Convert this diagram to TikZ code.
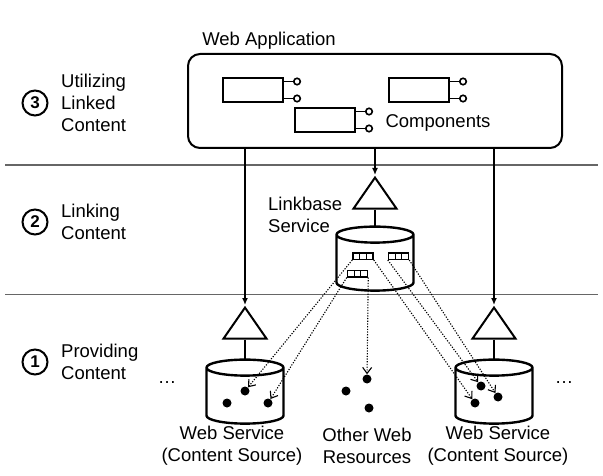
\documentclass[tikz,border=0pt]{standalone}
\usepackage{fontspec}
\setmainfont{Liberation Sans}
\usetikzlibrary{arrows,arrows.meta,positioning,shapes.geometric}

\begin{document}
\begin{tikzpicture}[x=1pt, y=-1pt, font=\fontsize{18.5}{22}\selectfont]
\tikzset{layer line/.style={draw=black!60, line width=1.4pt}}
\tikzset{appbox/.style={draw, line width=2pt, rounded corners=12pt, minimum width=374pt, minimum height=94pt, inner sep=0pt}}
\tikzset{comp/.style={draw, line width=2pt, minimum width=60pt, minimum height=24pt, inner sep=0pt}}
\tikzset{portdot/.style={circle, draw, line width=1.6pt, fill=white, minimum size=6.5pt, inner sep=0pt, anchor=west}}
\tikzset{iface/.style={isosceles triangle, isosceles triangle stretches, shape border rotate=90, draw, line width=2pt, minimum width=43pt, minimum height=31pt, inner sep=0pt}}
\tikzset{store/.style={minimum width=77pt, minimum height=64pt, inner sep=0pt, outer sep=0pt}}
\tikzset{store line/.style={line width=2.4pt, line join=round}}
\tikzset{linkbox/.style={draw, line width=1.5pt, minimum width=20pt, minimum height=6.5pt, inner sep=0pt,
  path picture={\foreach \f in {6.67,13.33} \draw[line width=1.3pt] ([xshift=\f pt]path picture bounding box.south west) -- ([xshift=\f pt]path picture bounding box.north west);}}}
\tikzset{res/.style={circle, fill, minimum size=9pt, inner sep=0pt}}
\tikzset{conn/.style={line width=1.3pt, -{Latex[length=7pt,width=6pt]}}}
\tikzset{plain/.style={line width=1.3pt}}
\tikzset{link/.style={dash pattern=on 1.2pt off 1.5pt, line width=1.1pt, -{Straight Barb[length=6pt,width=9pt]}}}
\tikzset{phase/.style={circle, draw, line width=2pt, minimum size=25pt, inner sep=0pt, font=\fontsize{17}{17}\selectfont\bfseries}}
\tikzset{phase text/.style={anchor=west, align=left, inner sep=0pt}}
\useasboundingbox (0,0) rectangle (603,476);

% layers
\draw[layer line] (5,165) -- (598,165);
\draw[layer line] (5,294.5) -- (598,294.5);
\node[phase] (p3) at (35,103) {3};
\node[phase text] (p3text) at (61,103) {Utilizing\\Linked\\Content};
\node[phase] (p2) at (35,222) {2};
\node[phase text] (p2text) at (61,222) {Linking\\Content};
\node[phase] (p1) at (35,362) {1};
\node[phase text] (p1text) at (61,362) {Providing\\Content};

% web application
\node[appbox] (webapp) at (375,101) {};
\node (apptitle) at (269,41) {Web Application};
\node[comp] (compa) at (253,90) {};
\node[comp] (compb) at (419,90) {};
\node[comp] (compc) at (325,120) {};
\foreach \c in {compa,compb,compc} {
  \draw[line width=1.6pt] ([yshift=-4.5pt]\c.north east) -- ++(9,0) node[portdot] {};
  \draw[line width=1.6pt] ([yshift=4.5pt]\c.south east) -- ++(9,0) node[portdot] {};
}
\node (complabel) at (438,123) {Components};

% linkbase
\node[iface, anchor=apex] (lbtri) at (375,175) {};
\node[store, below=17pt of lbtri] (lbstore) {};
\node[phase text] (lblabel) at (268,215) {Linkbase\\Service};

% content sources
\node[iface, anchor=apex] (ltri) at (245,305) {};
\node[store, below=20pt of ltri] (lstore) {};
\node[iface, anchor=apex] (rtri) at (494,305) {};
\node[store, below=20pt of rtri] (rstore) {};

% cylinders
\foreach \s in {lbstore,lstore,rstore}
  \draw[store line] ([yshift=-8pt]\s.north west) -- ([yshift=8pt]\s.south west)
    arc[start angle=180, end angle=360, x radius=38.5pt, y radius=8pt]
    -- ([yshift=-8pt]\s.north east)
    arc[start angle=0, end angle=180, x radius=38.5pt, y radius=8pt]
    arc[start angle=180, end angle=360, x radius=38.5pt, y radius=8pt];

\node[linkbox] (lba) at (363,256) {};
\node[linkbox] (lbb) at (398.5,256) {};
\node[linkbox] (lbc) at (357.5,273.5) {};
\node[res] (ldot1) at (227,403) {};
\node[res] (ldot2) at (245,391) {};
\node[res] (ldot3) at (268,403) {};
\node[res] (mdot1) at (367,379) {};
\node[res] (mdot2) at (346,391) {};
\node[res] (mdot3) at (369,408) {};
\node[res] (rdot1) at (481,386) {};
\node[res] (rdot2) at (498,397) {};
\node[res] (rdot3) at (475,403) {};
\node (lmore) at (167,383) {\dots};
\node (rmore) at (564,383) {\dots};
\node[align=center] (lsrc) at (232,446) {Web Service\\(Content Source)};
\node[align=center] (other) at (367,446) {Other Web\\Resources};
\node[align=center] (rsrc) at (498,446) {Web Service\\(Content Source)};

% connectors
\draw[conn] (ltri.apex |- webapp.south) -- (ltri.apex);
\draw[conn] (lbtri.apex |- webapp.south) -- (lbtri.apex);
\draw[conn] (rtri.apex |- webapp.south) -- (rtri.apex);
\draw[plain] (lbtri.south) -- (lbstore.north);
\draw[plain] (ltri.south) -- (lstore.north);
\draw[plain] (rtri.south) -- (rstore.north);
\draw[link] (lba.south west) -- (ldot2);
\draw[link] (lbc.south west) -- (ldot3);
\draw[link] (lbc.south east) -- (mdot1);
\draw[link] (lba.south east) -- (rdot3);
\draw[link] (lbb.south west) -- (rdot1);
\draw[link] (lbb.south east) -- (rdot2);
\end{tikzpicture}
\end{document}
